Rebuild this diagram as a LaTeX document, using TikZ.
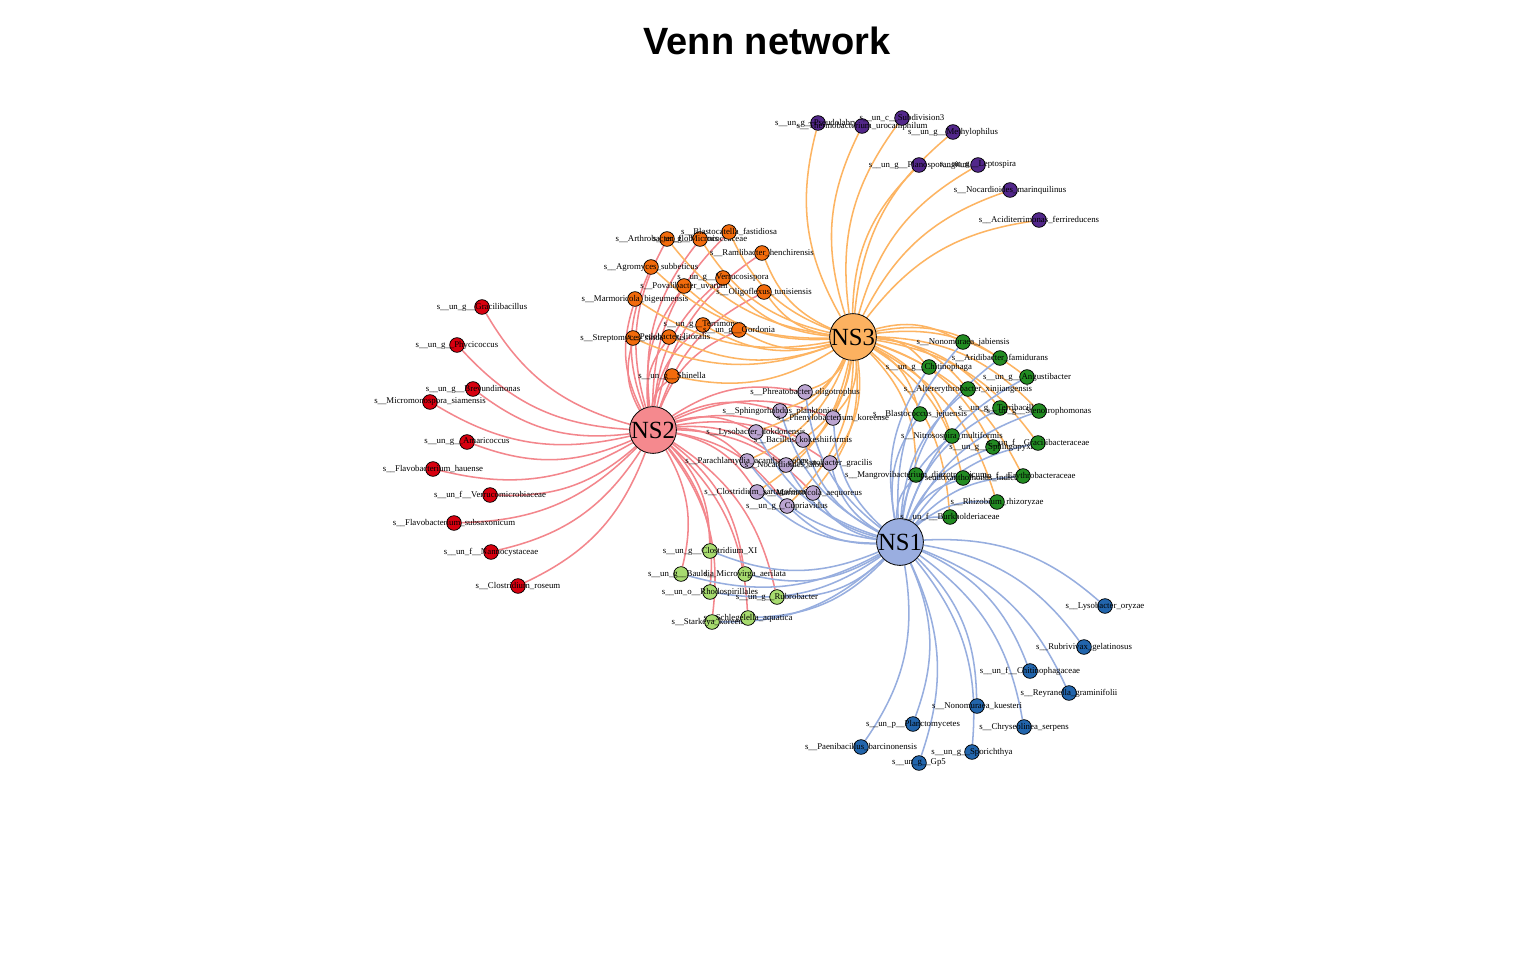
\documentclass[tikz,border=0pt]{standalone}
\usepackage{fontspec}
\setmainfont{Liberation Serif}
\newfontfamily\titlefont{Liberation Sans}
\usetikzlibrary{backgrounds}
\definecolor{eTwo}{HTML}{F3868C}
\definecolor{eThree}{HTML}{FDB462}
\definecolor{eOne}{HTML}{97AEDF}
\definecolor{hTwo}{HTML}{F5898E}
\definecolor{hThree}{HTML}{FCB160}
\definecolor{hOne}{HTML}{9AAEE0}
\definecolor{cRed}{HTML}{D7000F}
\definecolor{cOrange}{HTML}{F26B0C}
\definecolor{cPurple}{HTML}{52278A}
\definecolor{cLPurple}{HTML}{BBA5D1}
\definecolor{cGreen}{HTML}{228B22}
\definecolor{cLGreen}{HTML}{A7DB6F}
\definecolor{cBlue}{HTML}{2265AC}
\tikzset{
  v/.style={circle,draw=black,line width=0.55pt,minimum size=11pt,inner sep=0pt},
  hub/.style={circle,draw=black,line width=0.6pt,minimum size=32pt,inner sep=0pt,font=\fontsize{18.5}{18.5}\selectfont},
  lbl/.style={font=\fontsize{6.6}{6.6}\selectfont,inner sep=0pt,text=black},
  red/.style={v,fill=cRed},
  orange/.style={v,fill=cOrange},
  purple/.style={v,fill=cPurple},
  lpurple/.style={v,fill=cLPurple},
  green/.style={v,fill=cGreen},
  lgreen/.style={v,fill=cLGreen},
  blue/.style={v,fill=cBlue},
  edgeTwo/.style={draw=eTwo,line width=1.15pt,bend left=22},
  edgeThree/.style={draw=eThree,line width=1.15pt,bend left=22},
  edgeOne/.style={draw=eOne,line width=1.15pt,bend left=22}
}
\newcommand\vx[4]{\node[#1,label={[lbl]center:#4}] (#2) at (#3) {};}
\begin{document}
\begin{tikzpicture}[x=0.75pt,y=-0.75pt]
\useasboundingbox (0,0) rectangle (1536,960);

\node[font=\titlefont\bfseries\fontsize{28.5}{30}\selectfont,anchor=base] (title) at (767,54) {Venn network};

% hubs
\node[hub,fill=hTwo] (NS2) at (653,430) {NS2};
\node[hub,fill=hThree] (NS3) at (853,337) {NS3};
\node[hub,fill=hOne] (NS1) at (900,542) {NS1};

% NS3 only (purple)
\vx{purple}{P1}{818,123}{s\_\_un\_g\_\_Pseudolabrys}
\vx{purple}{P2}{862,126}{s\_\_Thermobacterium\_urocaniphilum}
\vx{purple}{P3}{902,118}{s\_\_un\_c\_\_Subdivision3}
\vx{purple}{P4}{953,132}{s\_\_un\_g\_\_Methylophilus}
\vx{purple}{P5}{919,165}{s\_\_un\_g\_\_Planosporangium}
\vx{purple}{P6}{978,165}{s\_\_un\_g\_\_Leptospira}
\vx{purple}{P7}{1010,190}{s\_\_Nocardioides\_marinquilinus}
\vx{purple}{P8}{1039,220}{s\_\_Aciditerrimonas\_ferrireducens}

% NS2 and NS3 (orange)
\vx{orange}{O1}{667,239}{s\_\_Arthrobacter\_globiformis}
\vx{orange}{O2}{700,239}{s\_\_un\_f\_\_Micrococcaceae}
\vx{orange}{O3}{729,232}{s\_\_Blastocatella\_fastidiosa}
\vx{orange}{O4}{762,253}{s\_\_Ramlibacter\_henchirensis}
\vx{orange}{O5}{651,267}{s\_\_Agromyces\_subbeticus}
\vx{orange}{O6}{723,278}{s\_\_un\_g\_\_Verrucosispora}
\vx{orange}{O7}{684,286}{s\_\_Povalibacter\_uvarum}
\vx{orange}{O8}{764,292}{s\_\_Oligoflexus\_tunisiensis}
\vx{orange}{O9}{635,299}{s\_\_Marmoricola\_bigeumensis}
\vx{orange}{O10}{703,325}{s\_\_un\_g\_\_Terrimonas}
\vx{orange}{O11}{739,330}{s\_\_un\_g\_\_Gordonia}
\vx{orange}{O12}{633,338}{s\_\_Streptomyces\_sindenensis}
\vx{orange}{O13}{669,337}{s\_\_Pedobacter\_litoralis}
\vx{orange}{O14}{672,376}{s\_\_un\_g\_\_Shinella}

% NS2 only (red)
\vx{red}{R1}{482,307}{s\_\_un\_g\_\_Gracilibacillus}
\vx{red}{R2}{457,345}{s\_\_un\_g\_\_Phycicoccus}
\vx{red}{R3}{473,389}{s\_\_un\_g\_\_Brevundimonas}
\vx{red}{R4}{430,402}{s\_\_Micromonospora\_siamensis}
\vx{red}{R5}{467,442}{s\_\_un\_g\_\_Amaricoccus}
\vx{red}{R6}{433,469}{s\_\_Flavobacterium\_hauense}
\vx{red}{R7}{490,495}{s\_\_un\_f\_\_Verrucomicrobiaceae}
\vx{red}{R8}{454,523}{s\_\_Flavobacterium\_subsaxonicum}
\vx{red}{R9}{491,552}{s\_\_un\_f\_\_Nannocystaceae}
\vx{red}{R10}{518,586}{s\_\_Clostridium\_roseum}

% all three (light purple)
\vx{lpurple}{L1}{805,392}{s\_\_Phreatobacter\_oligotrophus}
\vx{lpurple}{L2}{780,411}{s\_\_Sphingorhabdus\_planktonica}
\vx{lpurple}{L3}{833,418}{s\_\_Phenylobacterium\_koreense}
\vx{lpurple}{L4}{756,432}{s\_\_Lysobacter\_dokdonensis}
\vx{lpurple}{L5}{803,440}{s\_\_Bacillus\_kokeshiiformis}
\vx{lpurple}{L6}{747,461}{s\_\_Parachlamydia\_acanthamoebae}
\vx{lpurple}{L7}{786,465}{s\_\_Nocardioides\_albus}
\vx{lpurple}{L8}{830,463}{s\_\_Cystobacter\_gracilis}
\vx{lpurple}{L9}{757,492}{s\_\_Clostridium\_sartagoforme}
\vx{lpurple}{L10}{813,493}{s\_\_Marmoricola\_aequoreus}
\vx{lpurple}{L11}{787,506}{s\_\_un\_g\_\_Cupriavidus}

% NS1 and NS3 (green)
\vx{green}{G1}{963,342}{s\_\_Nonomuraea\_jabiensis}
\vx{green}{G2}{1000,358}{s\_\_Aridibacter\_famidurans}
\vx{green}{G3}{929,367}{s\_\_un\_g\_\_Chitinophaga}
\vx{green}{G4}{1027,377}{s\_\_un\_g\_\_Angustibacter}
\vx{green}{G5}{968,389}{s\_\_Altererythrobacter\_xinjiangensis}
\vx{green}{G6}{920,414}{s\_\_Blastococcus\_jejuensis}
\vx{green}{G7}{1000,408}{s\_\_un\_g\_\_Terribacillus}
\vx{green}{G8}{1039,411}{s\_\_un\_g\_\_Stenotrophomonas}
\vx{green}{G9}{952,436}{s\_\_Nitrosospira\_multiformis}
\vx{green}{G10}{993,447}{s\_\_un\_g\_\_Sphingopyxis}
\vx{green}{G11}{1038,443}{s\_\_un\_f\_\_Gracilibacteraceae}
\vx{green}{G12}{916,475}{s\_\_Mangrovibacterium\_diazotrophicum}
\vx{green}{G13}{963,478}{s\_\_Pseudoxanthomonas\_indica}
\vx{green}{G14}{1023,476}{s\_\_un\_f\_\_Erythrobacteraceae}
\vx{green}{G15}{997,502}{s\_\_Rhizobium\_rhizoryzae}
\vx{green}{G16}{950,517}{s\_\_un\_f\_\_Burkholderiaceae}

% NS1 and NS2 (light green)
\vx{lgreen}{K1}{710,551}{s\_\_un\_g\_\_Clostridium\_XI}
\vx{lgreen}{K2}{681,574}{s\_\_un\_g\_\_Bauldia}
\vx{lgreen}{K3}{745,574}{s\_\_Microvirga\_aerilata}
\vx{lgreen}{K4}{710,592}{s\_\_un\_o\_\_Rhodospirillales}
\vx{lgreen}{K5}{777,597}{s\_\_un\_g\_\_Rubrobacter}
\vx{lgreen}{K6}{712,622}{s\_\_Starkeya\_koreensis}
\vx{lgreen}{K7}{748,618}{s\_\_Schlegelella\_aquatica}

% NS1 only (blue)
\vx{blue}{B1}{1105,606}{s\_\_Lysobacter\_oryzae}
\vx{blue}{B2}{1084,647}{s\_\_Rubrivivax\_gelatinosus}
\vx{blue}{B3}{1030,671}{s\_\_un\_f\_\_Chitinophagaceae}
\vx{blue}{B4}{1069,693}{s\_\_Reyranella\_graminifolii}
\vx{blue}{B5}{977,706}{s\_\_Nonomuraea\_kuesteri}
\vx{blue}{B6}{913,724}{s\_\_un\_p\_\_Planctomycetes}
\vx{blue}{B7}{1024,727}{s\_\_Chryseolinea\_serpens}
\vx{blue}{B8}{861,747}{s\_\_Paenibacillus\_barcinonensis}
\vx{blue}{B9}{972,752}{s\_\_un\_g\_\_Sporichthya}
\vx{blue}{B10}{919,763}{s\_\_un\_g\_\_Gp5}

\begin{pgfonlayer}{background}
\fill[white] (0,0) rectangle (1536,960);
\foreach \n in {R1,R2,R3,R4,R5,R6,R7,R8,R9,R10,O1,O2,O3,O4,O5,O6,O7,O8,O9,O10,O11,O12,O13,O14,L1,L2,L3,L4,L5,L6,L7,L8,L9,L10,L11,K1,K2,K3,K4,K5,K6,K7}
  \draw[edgeTwo] (NS2) to (\n);
\foreach \n in {P1,P2,P3,P4,P5,P6,P7,P8,O1,O2,O3,O4,O5,O6,O7,O8,O9,O10,O11,O12,O13,O14,L1,L2,L3,L4,L5,L6,L7,L8,L9,L10,L11,G1,G2,G3,G4,G5,G6,G7,G8,G9,G10,G11,G12,G13,G14,G15,G16}
  \draw[edgeThree] (NS3) to (\n);
\foreach \n in {B1,B2,B3,B4,B5,B6,B7,B8,B9,B10,L1,L2,L3,L4,L5,L6,L7,L8,L9,L10,L11,G1,G2,G3,G4,G5,G6,G7,G8,G9,G10,G11,G12,G13,G14,G15,G16,K1,K2,K3,K4,K5,K6,K7}
  \draw[edgeOne] (NS1) to (\n);
\end{pgfonlayer}
\end{tikzpicture}
\end{document}
